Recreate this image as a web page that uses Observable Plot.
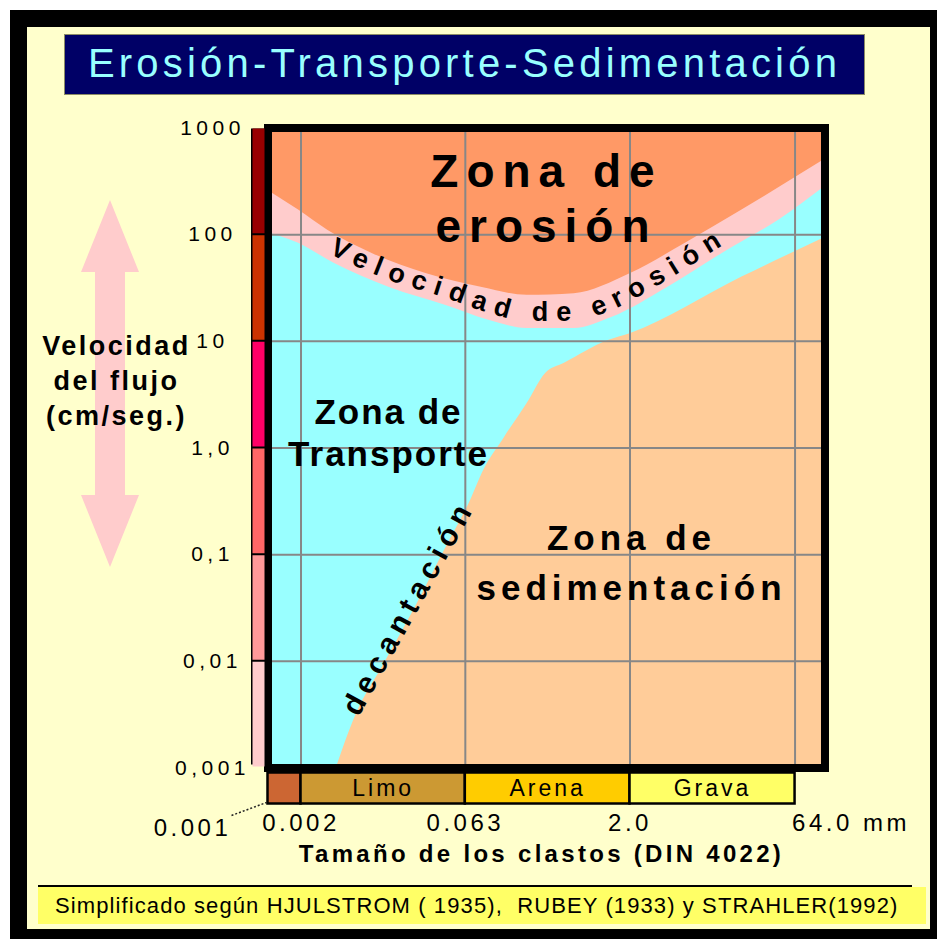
<!DOCTYPE html>
<html>
<head>
<meta charset="utf-8">
<script src="https://cdn.jsdelivr.net/npm/d3@7"></script>
<script src="https://cdn.jsdelivr.net/npm/@observablehq/plot@0.6"></script>
<style>
  html, body { margin: 0; padding: 0; background: #fff; }
  #page { position: relative; width: 937px; height: 939px; overflow: hidden;
          font-family: "Liberation Sans", Arial, sans-serif; }
  #outer { position: absolute; left: 10px; top: 10px; width: 927px; height: 929px; background: #000; }
  #inner { position: absolute; left: 27px; top: 27px; width: 903px; height: 902px; background: #ffffcc; }
  #title { position: absolute; left: 64px; top: 34px; width: 799px; height: 59px; background: #000066;
           border: 1px solid #8c8c66; color: #99ffff; font-size: 40px; letter-spacing: 4.2px;
           text-align: center; line-height: 57px; white-space: nowrap; }
  #chart { position: absolute; left: 0; top: 100px; }
  #grain { position: absolute; left: 0; top: 771px; }
  #capline { position: absolute; left: 38px; top: 885px; width: 874px; height: 2px; background: #000; }
  #caption { position: absolute; left: 38px; top: 887px; width: 888px; height: 37px; background: #ffff66;
             font-size: 22px; line-height: 37px; padding-left: 17px; box-sizing: border-box;
             white-space: pre; color: #000; letter-spacing: 1.1px; }
  g[aria-label="y-axis tick label"] text { letter-spacing: 4.5px; }
  text[aria-label="xtick"] { letter-spacing: 3.5px; }
  text[aria-label="xtitle"] { letter-spacing: 3.3px; }
  text[aria-label="ytitle"] { letter-spacing: 2.5px; }
  text[aria-label="zone-erosion"] { letter-spacing: 8px; }
  text[aria-label="zone-transport"] { letter-spacing: 2px; }
  text[aria-label="zone-sediment"] { letter-spacing: 5px; }
  text[aria-label="decant"] { letter-spacing: 6px; }
  text[aria-label="grain"] { letter-spacing: 3px; }
</style>
</head>
<body>
<div id="page">
  <div id="outer"></div>
  <div id="inner"></div>
  <div id="title"></div>
  <div id="chart"></div>
  <div id="grain"></div>
  <div id="capline"></div>
  <div id="caption"></div>
</div>
<script>
// ---------- data ----------
const titleText = "Erosión-Transporte-Sedimentación";
const captionText = "Simplificado según HJULSTROM ( 1935),  RUBEY (1933) y STRAHLER(1992)";
const xTitle = "Tamaño de los clastos (DIN 4022)";
const yTitle = "Velocidad\ndel flujo\n(cm/seg.)";
const xUnit = "mm";

const xTickVals = [0.001, 0.002, 0.063, 2, 64];
const xTickLabels = ["0.001", "0.002", "0.063", "2.0", "64.0"];
const yTickVals = [1000, 100, 10, 1, 0.1, 0.01, 0.001];
const yTickLabels = ["1000", "100", "10", "1,0", "0,1", "0,01", "0,001"];
const velColors = ["#990000", "#cc3300", "#ff0066", "#ff6666", "#ff9999", "#ffcccc"];

const grainNames = ["", "Limo", "Arena", "Grava"];
const grainFrom = [0.001, 0.002, 0.063, 2];
const grainTo = [0.002, 0.063, 2, 64];
const grainColors = ["#cc6633", "#cc9933", "#ffcc00", "#ffff66"];

// upper edge of the erosion-velocity band (limit of the erosion zone)
const erosionX   = [0.001, 0.0019, 0.0035, 0.0088, 0.028, 0.09, 0.23, 0.62, 2.0, 6.4, 21, 52, 120];
const erosionVel = [260, 170, 110, 67, 43, 32, 27, 28, 43, 83, 170, 300, 510];
// lower edge of the erosion-velocity band (top of the transport zone)
const transportX   = [0.001, 0.0019, 0.004, 0.0128, 0.042, 0.105, 0.23, 0.62, 1.36, 4.4, 14, 45, 120];
const transportVel = [105, 83, 54, 32, 21.7, 15.7, 13.2, 13.2, 16.7, 32, 67, 136, 283];
// settling (decantación) limit: top of the sedimentation zone
const sedimentX   = [0.0042, 0.0064, 0.011, 0.022, 0.042, 0.072, 0.09, 0.143, 0.23, 0.34, 0.5, 1.27, 2.0, 21, 120];
const sedimentVel = [0.001, 0.0032, 0.0088, 0.032, 0.117, 0.34, 0.58, 1.25, 2.6, 5.0, 6.2, 10.2, 11.8, 40, 94];

const zoneErosion = "Zona de\nerosión";
const zoneTransport = "Zona de\nTransporte";
const zoneSediment = "Zona de\nsedimentación";
const bandLabel = "Velocidad de erosión";
const decantLabel = "decantación";

// ---------- build ----------
document.getElementById("title").textContent = titleText;
document.getElementById("caption").textContent = captionText;

const erosion = erosionX.map((x, i) => ({x, v: erosionVel[i]}));
const transport = transportX.map((x, i) => ({x, v: transportVel[i]}));
const sediment = sedimentX.map((x, i) => ({x, v: sedimentVel[i]}));
const velBands = velColors.map((c, i) => ({hi: yTickVals[i], lo: yTickVals[i + 1], c}));
const grain = grainFrom.map((d, i) => ({x1: d, x2: grainTo[i], name: grainNames[i], c: grainColors[i]}));

const FONT = "'Liberation Sans', Arial, Helvetica, sans-serif";
const xDomain = [0.001, 120];
const yMin = yTickVals[yTickVals.length - 1];

const main = Plot.plot({
  width: 937, height: 780,
  marginLeft: 267.5, marginRight: 112.5, marginTop: 27.5, marginBottom: 112.5,
  style: {background: "transparent", fontFamily: FONT, color: "#000", overflow: "visible"},
  x: {type: "log", domain: xDomain, axis: null},
  y: {type: "log", domain: [yMin, yTickVals[0]]},
  color: {type: "identity"},
  marks: [
    Plot.frame({fill: "#ff9966"}),
    Plot.areaY(erosion, {x: "x", y1: yMin, y2: "v", fill: "#ffcccc", curve: "monotone-x"}),
    Plot.areaY(transport, {x: "x", y1: yMin, y2: "v", fill: "#99ffff", curve: "monotone-x"}),
    Plot.areaY(sediment, {x: "x", y1: yMin, y2: "v", fill: "#ffcc99", curve: "monotone-x"}),
    Plot.ruleX(xTickVals.slice(1), {stroke: "#878787", strokeWidth: 2}),
    Plot.ruleY(yTickVals.slice(1, -1), {stroke: "#878787", strokeWidth: 2}),
    Plot.frame({stroke: "#000", strokeWidth: 8}),
    // velocity colour bar
    Plot.ruleX([0], {x: xTickVals[0], y1: yMin, y2: yTickVals[0], stroke: "#000", strokeWidth: 15, dx: -9.5, insetTop: -3, insetBottom: -1}),
    Plot.ruleX(velBands, {x: xTickVals[0], y1: "hi", y2: "lo", stroke: d => d.c, strokeWidth: 12, dx: -9.5, insetTop: 1, insetBottom: 1}),
    Plot.axisY({ticks: yTickVals, tickFormat: d => yTickLabels[yTickVals.indexOf(d)], tickSize: 0, tickPadding: 55.5,
                textAnchor: "middle", fontSize: 21}),
    // x tick labels
    Plot.text(xTickVals.slice(1, 4), {x: d => d, text: d => xTickLabels[xTickVals.indexOf(d)], frameAnchor: "bottom",
                dy: 55.5, textAnchor: "middle", lineAnchor: "middle", fontSize: 24, ariaLabel: () => "xtick"}),
    Plot.text([xTickVals[0]], {x: d => d, text: () => xTickLabels[0], frameAnchor: "bottom", dx: -75.5, dy: 60,
                textAnchor: "middle", lineAnchor: "middle", fontSize: 24, ariaLabel: () => "xtick"}),
    Plot.text([xTickVals[4]], {x: d => d, text: () => xTickLabels[4] + " " + xUnit, frameAnchor: "bottom", dx: -3, dy: 55.5,
                textAnchor: "start", lineAnchor: "middle", fontSize: 24, ariaLabel: () => "xtick"}),
    // axis titles
    Plot.text([xTitle], {frameAnchor: "bottom", dx: -5, dy: 86, textAnchor: "middle", lineAnchor: "middle", fontSize: 24,
                fontWeight: "bold", ariaLabel: () => "xtitle"}),
    Plot.text([yTitle], {frameAnchor: "left", dx: -151.5, dy: -69.5, lineAnchor: "middle", lineHeight: 1.3,
                fontSize: 27, fontWeight: "bold", textAnchor: "middle", ariaLabel: () => "ytitle"}),
    // zone labels
    Plot.text([zoneErosion], {frameAnchor: "top", dy: 69, textAnchor: "middle", lineAnchor: "middle", lineHeight: 1.2,
                fontSize: 46, fontWeight: "bold", ariaLabel: () => "zone-erosion"}),
    Plot.text([zoneTransport], {frameAnchor: "left", dx: 120.5, dy: -16.5, textAnchor: "middle", lineAnchor: "middle", lineHeight: 1.2,
                fontSize: 35, fontWeight: "bold", ariaLabel: () => "zone-transport"}),
    Plot.text([zoneSediment], {frameAnchor: "right", dx: -193.5, dy: 110.5, textAnchor: "middle", lineAnchor: "middle", lineHeight: 1.43,
                fontSize: 35, fontWeight: "bold", ariaLabel: () => "zone-sediment"}),
    Plot.text([decantLabel], {frameAnchor: "bottom-left", dx: 140.5, dy: -160.5, rotate: -61, textAnchor: "middle", lineAnchor: "middle",
                fontSize: 30, fontWeight: "bold", ariaLabel: () => "decant"})
  ]
});
document.getElementById("chart").appendChild(main);

const grainPlot = Plot.plot({
  width: 937, height: 34,
  marginLeft: 267.5, marginRight: 112.5, marginTop: 1.5, marginBottom: 1.5,
  style: {background: "transparent", fontFamily: FONT, color: "#000", overflow: "visible"},
  x: {type: "log", domain: xDomain, axis: null},
  color: {type: "identity"},
  marks: [
    Plot.rect(grain, {x1: "x1", x2: "x2", fill: d => d.c, stroke: "#000", strokeWidth: 2.5}),
    Plot.text(grain, {x: d => Math.sqrt(d.x1 * d.x2), text: "name", frameAnchor: "middle", textAnchor: "middle", lineAnchor: "middle",
                      fontSize: 23, ariaLabel: () => "grain"})
  ]
});
document.getElementById("grain").appendChild(grainPlot);

// ---------- decorations derived from the scales ----------
const svg = d3.select(main);
const X = main.scale("x"), Y = main.scale("y");

// pink double arrow behind the y title
const ax = 110, aTop = 100, aBot = 467, head = 72, hw = 29, sw = 15;
const arrow = [[ax, aTop], [ax + hw, aTop + head], [ax + sw, aTop + head], [ax + sw, aBot - head], [ax + hw, aBot - head],
               [ax, aBot], [ax - hw, aBot - head], [ax - sw, aBot - head], [ax - sw, aTop + head], [ax - hw, aTop + head]];
svg.insert("path", "g").attr("d", "M" + arrow.map(p => p.join(",")).join("L") + "Z").attr("fill", "#ffcccc");

// dotted leader from the "0.001" label to the bar corner
const x0 = X.apply(xTickVals[0]), y0 = Y.apply(yMin);
svg.append("line").attr("x1", x0 - 36).attr("y1", y0 + 48).attr("x2", x0 - 1).attr("y2", y0 + 35)
   .attr("stroke", "#222").attr("stroke-width", 1.5).attr("stroke-dasharray", "2,2");

// curved label along the erosion-velocity band
const pts = transport.map(d => [X.apply(d.x), Y.apply(d.v) - 7]);
svg.append("defs").append("path").attr("id", "band-path").attr("d", d3.line().curve(d3.curveMonotoneX)(pts));
const pathNode = main.querySelector("#band-path");
const L = pathNode.getTotalLength();
function lenAtX(px) {
  let lo = 0, hi = L;
  for (let k = 0; k < 40; k++) { const m = (lo + hi) / 2; if (pathNode.getPointAtLength(m).x < px) lo = m; else hi = m; }
  return (lo + hi) / 2;
}
const s0 = lenAtX(332), s1 = lenAtX(726);
const bandText = svg.append("text").attr("font-size", 27).attr("font-weight", "bold").attr("fill", "#000");
const tp = bandText.append("textPath").attr("href", "#band-path").attr("startOffset", (s0 + s1) / 2)
   .attr("text-anchor", "middle").text(bandLabel);
const natural = bandText.node().getComputedTextLength();
const ls = Math.max(0, (s1 - s0 - natural) / (bandLabel.length - 1));
bandText.style("letter-spacing", ls + "px");
</script>
</body>
</html>
